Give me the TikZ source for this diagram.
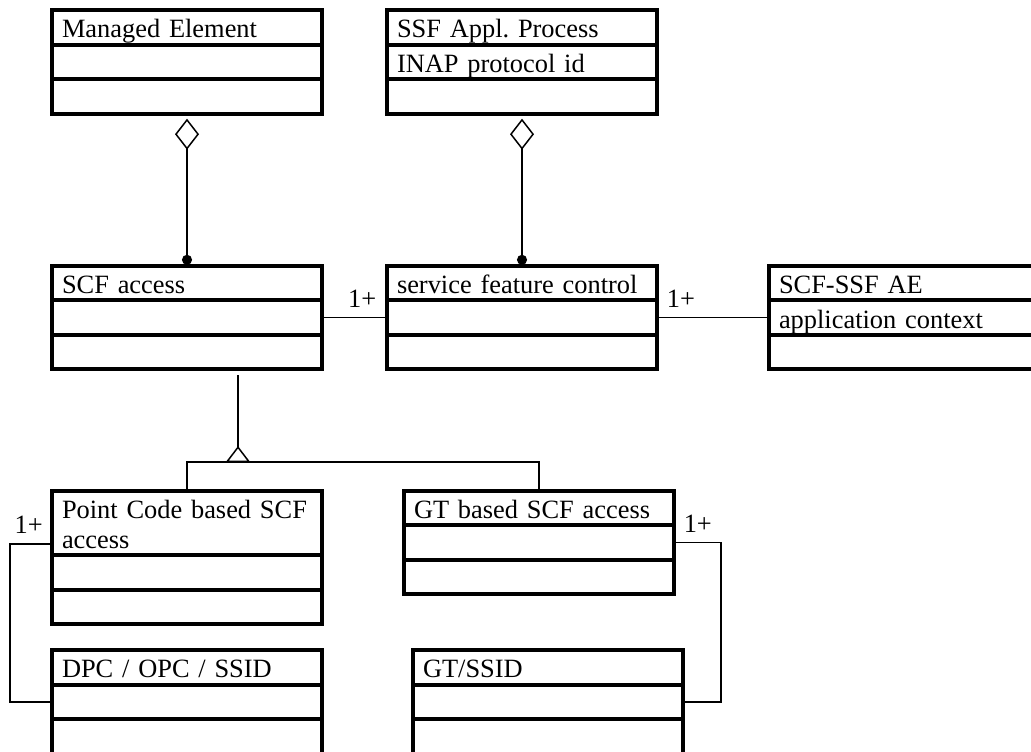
\documentclass[tikz,border=0pt]{standalone}
\usepackage{fontspec}
\setmainfont{Liberation Serif}
\usetikzlibrary{shapes.multipart,arrows.meta}
\frenchspacing
\newcommand{\cstrut}{\rule[-3pt]{0pt}{16.5pt}}
\tikzset{umlclass/.style = {rectangle split, rectangle split parts=3, draw, line width=0.8pt, text width=125pt, align=left,
		inner xsep=5pt, inner ysep=0pt, font=\fontsize{13.2}{15}\selectfont, postaction={draw, line width=2pt}},
	line/.style     = {draw, line width=0.75pt},
	aggr/.style     = {line, {Circle[length=5pt]}-{Diamond[open, length=15.5pt, width=12pt]}, shorten >=2pt},
	inherit/.style  = {line, -{Triangle[open, reversed, length=8pt, width=12pt]}},
	mult/.style     = {font=\fontsize{13.2}{15}\selectfont}
}
\begin{document}
\begin{tikzpicture}[x=0.5pt, y=-0.5pt, node distance=2cm, auto]
		\useasboundingbox (0,0) rectangle (1031,751);
		\node [umlclass] (me) at (187,62) {\cstrut Managed Element \nodepart{two}\cstrut \nodepart{three}\cstrut};
		\node [umlclass, right of=me, node distance=167.5pt] (ssf) {\cstrut SSF Appl. Process \nodepart{two}\cstrut INAP protocol id \nodepart{three}\cstrut};
		\node [umlclass, below of=me, node distance=127.75pt] (scf) {\cstrut SCF access \nodepart{two}\cstrut \nodepart{three}\cstrut};
		\node [umlclass, right of=scf, node distance=167.5pt] (sfc) {\cstrut service feature control \nodepart{two}\cstrut \nodepart{three}\cstrut};
		\node [umlclass, right of=sfc, node distance=191pt] (ae) {\cstrut SCF-SSF AE \nodepart{two}\cstrut application context \nodepart{three}\cstrut};
		\node [umlclass, below of=scf, node distance=120pt] (pcb) {\cstrut Point Code based SCF\\access\rule[-3pt]{0pt}{3pt} \nodepart{two}\cstrut \nodepart{three}\cstrut};
		\node [umlclass] (gtb) at (539,542.5) {\cstrut GT based SCF access \nodepart{two}\cstrut \nodepart{three}\cstrut};
		\node [umlclass, below of=pcb, node distance=72.25pt] (dpc) {\cstrut DPC / OPC / SSID \nodepart{two}\cstrut \nodepart{three}\cstrut};
		\node [umlclass] (gts) at (548,702) {\cstrut GT/SSID \nodepart{two}\cstrut \nodepart{three}\cstrut};
		\coordinate (gentop) at ([xshift=25.5pt, yshift=-2.5pt]scf.south);
		\coordinate (genbase) at (238,462);
		\path[aggr] (scf.north) -- (me.south);
		\path[aggr] (sfc.north) -- (ssf.south);
		\path[line] (scf.east) -- (sfc.west) node[pos=0.62, above=1.5pt, mult]{1+};
		\path[line] (sfc.east) -- (ae.west) node[pos=0.21, above=1.5pt, mult]{1+};
		\path[inherit] (gentop) -- (genbase);
		\path[line] (pcb.north) |- (genbase) -| (gtb.north);
		\path[line] ([yshift=6.75pt]pcb.west) -- ++(-41,0) node[pos=0.55, above=1.5pt, mult]{1+} |- (dpc.west);
		\path[line] (gtb.east) -- ++(46,0) node[pos=0.5, above=1.5pt, mult]{1+} |- (gts.east);
	\end{tikzpicture}
\end{document}
